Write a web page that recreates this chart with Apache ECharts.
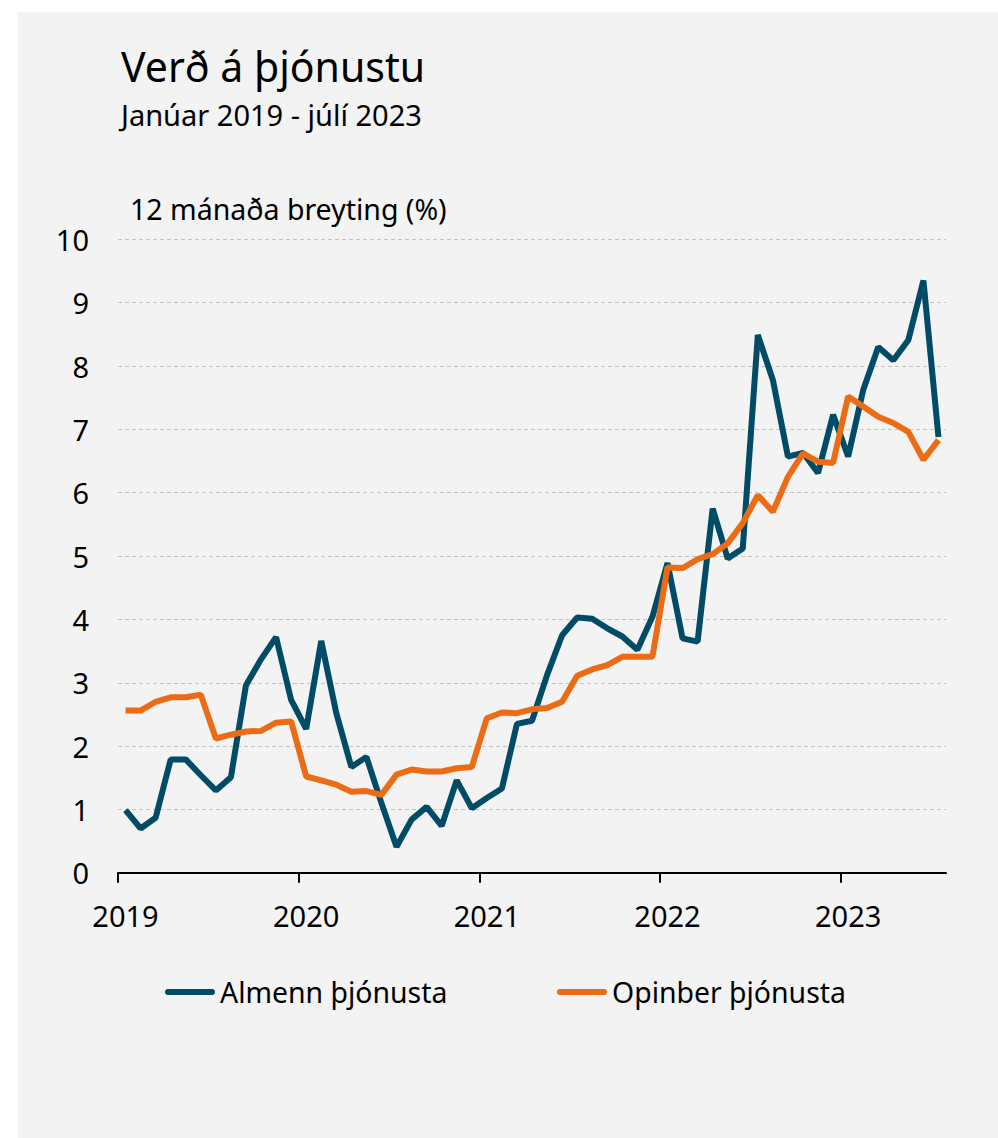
<!DOCTYPE html>
<html><head><meta charset="utf-8">
<script src="https://cdn.jsdelivr.net/npm/echarts@6/dist/echarts.min.js"></script>
<style>
html,body{margin:0;padding:0;background:#fff;width:998px;height:1138px;overflow:hidden;}
#panel{position:absolute;left:18px;top:12px;width:980px;height:1126px;background:#f3f3f3;}
#chart{position:absolute;left:0;top:0;width:998px;height:1138px;}
</style></head><body>
<div id="panel"></div><div id="chart"></div>
<script>
const titleText = 'Verð á þjónustu';
const subtitleText = 'Janúar 2019 - júlí 2023';
const yAxisTitle = '12 mánaða breyting (%)';
const seriesNames = ['Almenn þjónusta', 'Opinber þjónusta'];

const categories = [
 '2019-01','2019-02','2019-03','2019-04','2019-05','2019-06','2019-07','2019-08','2019-09','2019-10','2019-11','2019-12',
 '2020-01','2020-02','2020-03','2020-04','2020-05','2020-06','2020-07','2020-08','2020-09','2020-10','2020-11','2020-12',
 '2021-01','2021-02','2021-03','2021-04','2021-05','2021-06','2021-07','2021-08','2021-09','2021-10','2021-11','2021-12',
 '2022-01','2022-02','2022-03','2022-04','2022-05','2022-06','2022-07','2022-08','2022-09','2022-10','2022-11','2022-12',
 '2023-01','2023-02','2023-03','2023-04','2023-05','2023-06','2023-07'
];

// year-boundary tick positions (in months from Jan 2019)
const yearTickPositions = [0, 12, 24, 36, 48];

const almenn = [
 0.99,0.70,0.87,1.79,1.79,1.54,1.30,1.51,2.96,3.37,3.72,2.73,
 2.27,3.66,2.52,1.67,1.83,1.10,0.41,0.84,1.04,0.74,1.46,1.02,
 1.18,1.33,2.35,2.40,3.12,3.75,4.03,4.01,3.86,3.73,3.52,4.04,
 4.89,3.70,3.65,5.75,4.96,5.12,8.49,7.78,6.57,6.63,6.31,7.23,
 6.57,7.62,8.30,8.09,8.41,9.35,6.88
];

const opinber = [
 2.56,2.56,2.70,2.77,2.77,2.81,2.12,2.18,2.23,2.24,2.37,2.39,
 1.52,1.46,1.39,1.28,1.29,1.23,1.55,1.63,1.60,1.60,1.65,1.67,
 2.44,2.53,2.52,2.58,2.60,2.70,3.11,3.21,3.28,3.41,3.41,3.41,
 4.82,4.81,4.95,5.03,5.20,5.52,5.96,5.70,6.25,6.62,6.49,6.47,
 7.52,7.36,7.20,7.10,6.96,6.52,6.83
];

const yMin = 0, yMax = 10, yStep = 1;

const BLUE = '#004b66';
const ORANGE = '#ec6c15';
const FONT = '"Noto Sans", "Open Sans", sans-serif';
const CAPSULE = 'path://M3,0L47,0A3,3,0,0,1,47,6L3,6A3,3,0,0,1,3,0Z';

const chart = echarts.init(document.getElementById('chart'), null, {renderer: 'svg'});
chart.setOption({
  backgroundColor: 'transparent',
  animation: false,
  graphic: [
    {type: 'text', style: {x: 121, y: 66, text: titleText, font: '41px ' + FONT, fill: '#000', textAlign: 'left', textVerticalAlign: 'middle'}},
    {type: 'text', style: {x: 121, y: 114, text: subtitleText, font: '29px ' + FONT, fill: '#000', textAlign: 'left', textVerticalAlign: 'middle'}},
    {type: 'text', style: {x: 130, y: 209, text: yAxisTitle, font: '28.5px ' + FONT, fill: '#000', textAlign: 'left', textVerticalAlign: 'middle'}}
  ],
  grid: {left: 118, right: 52, top: 239.3, bottom: 265.2, containLabel: false},
  xAxis: [{
    type: 'category', data: categories, boundaryGap: true,
    axisLine: {show: true, lineStyle: {color: '#000', width: 2}},
    axisTick: {show: false},
    axisLabel: {interval: function (i) { return i % 12 === 0; }, formatter: function (v) { return v.slice(0, 4); },
      fontFamily: FONT, fontSize: 29, color: '#000', margin: 28},
    splitLine: {show: false}
  }, {
    type: 'value', min: 0, max: categories.length, interval: 12, position: 'bottom',
    axisLine: {show: false},
    axisTick: {show: true, customValues: yearTickPositions, length: 10, lineStyle: {color: '#000', width: 2}},
    axisLabel: {show: false},
    splitLine: {show: false}
  }],
  yAxis: {
    type: 'value', min: yMin, max: yMax, interval: yStep,
    axisLine: {show: false}, axisTick: {show: false},
    axisLabel: {fontFamily: FONT, fontSize: 29, color: '#000', margin: 29},
    splitLine: {show: true, lineStyle: {color: '#c4c4c4', width: 1, type: [4, 3]}}
  },
  legend: [
    {data: [seriesNames[0]], left: 165, top: 978, padding: 0, icon: CAPSULE, itemWidth: 50, itemHeight: 6, selectedMode: false,
     textStyle: {fontFamily: FONT, fontSize: 28.4, color: '#000'}},
    {data: [seriesNames[1]], left: 557, top: 978, padding: 0, icon: CAPSULE, itemWidth: 50, itemHeight: 6, selectedMode: false,
     textStyle: {fontFamily: FONT, fontSize: 28.4, color: '#000'}}
  ],
  series: [
    {name: seriesNames[0], type: 'line', xAxisIndex: 0, data: almenn, symbol: 'none', smooth: false,
     lineStyle: {color: BLUE, width: 6}, itemStyle: {color: BLUE}},
    {name: seriesNames[1], type: 'line', xAxisIndex: 0, data: opinber, symbol: 'none', smooth: false,
     lineStyle: {color: ORANGE, width: 6}, itemStyle: {color: ORANGE}}
  ]
});
</script>
</body></html>
